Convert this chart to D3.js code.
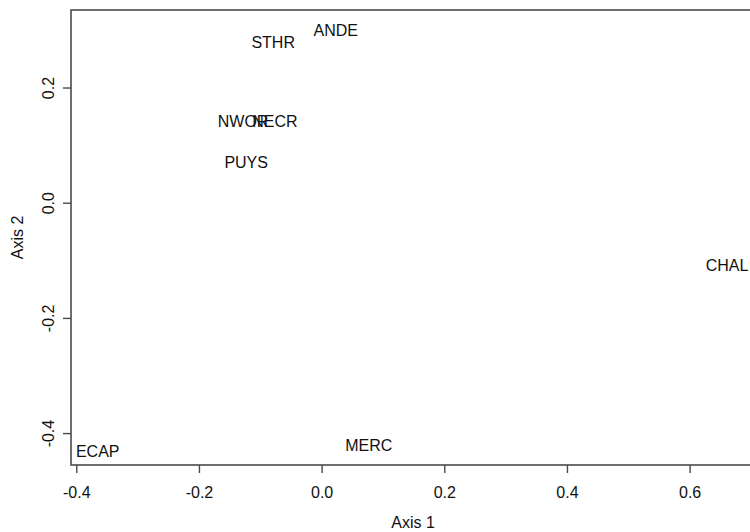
<!DOCTYPE html>
<meta charset="utf-8">
<style>
  body { margin: 0; background: #fff; }
  text { font-family: "Liberation Sans", Arial, sans-serif; fill: #111; }
</style>

<!-- Load d3.js -->
<script src="https://d3js.org/d3.v7.min.js"></script>

<!-- Create a div where the graph will take place -->
<div id="my_dataviz"></div>
<script>

// site labels and their ordination scores
var sites = ["STHR", "ANDE", "NWOR", "NECR", "PUYS", "ECAP", "MERC", "CHAL"];
var axis1 = [-0.079, 0.023, -0.128, -0.076, -0.123, -0.365, 0.077, 0.661];
var axis2 = [0.278, 0.299, 0.142, 0.142, 0.071, -0.432, -0.421, -0.109];

// tick labels
var xTicks = [-0.4, -0.2, 0.0, 0.2, 0.4, 0.6];
var yTicks = [-0.4, -0.2, 0.0, 0.2];

// set the dimensions of the page and the plot box
// (plot region runs a little past the right edge of the page)
var W = 750, H = 532;
var plotL = 71, plotT = 10, plotR = 755, plotB = 465;

var svg = d3.select("#my_dataviz")
  .append("svg")
    .attr("width", W)
    .attr("height", H);

var x = d3.scaleLinear()
  .domain([-0.4086, 0.7066])
  .range([plotL, plotR]);
var y = d3.scaleLinear()
  .domain([-0.4554, 0.3346])
  .range([plotB, plotT]);

// R style labels: plain hyphen for minus
var fmt = function(d) { return d3.format(".1f")(d).replace("\u2212", "-"); };

// box round the plot
svg.append("rect")
  .attr("x", plotL)
  .attr("y", plotT)
  .attr("width", plotR - plotL)
  .attr("height", plotB - plotT)
  .attr("fill", "none")
  .attr("stroke", "#4a4a4a")
  .attr("stroke-width", 1.6);

// X axis
var gx = svg.append("g")
  .attr("transform", "translate(0," + plotB + ")")
  .call(d3.axisBottom(x)
    .tickValues(xTicks)
    .tickFormat(fmt)
    .tickSize(8)
    .tickSizeOuter(0));
gx.select(".domain").remove();
gx.selectAll("line").attr("stroke", "#4a4a4a").attr("stroke-width", 1.4);
gx.selectAll("text")
  .attr("y", 27.7)
  .attr("dy", "0.36em")
  .style("font-size", "16px")
  .style("font-family", "Liberation Sans, Arial, sans-serif")
  .attr("fill", "#111");

// Y axis, labels turned like R does
var gy = svg.append("g")
  .attr("transform", "translate(" + plotL + ",0)")
  .call(d3.axisLeft(y)
    .tickValues(yTicks)
    .tickFormat(fmt)
    .tickSize(8)
    .tickSizeOuter(0));
gy.select(".domain").remove();
gy.selectAll("line").attr("stroke", "#4a4a4a").attr("stroke-width", 1.4);
gy.selectAll("text")
  .attr("x", 0)
  .attr("y", -23)
  .attr("dy", "0.36em")
  .attr("transform", "rotate(-90)")
  .style("text-anchor", "middle")
  .style("font-size", "16px")
  .style("font-family", "Liberation Sans, Arial, sans-serif")
  .attr("fill", "#111");

// axis titles
svg.append("text")
  .attr("x", (plotL + plotR) / 2)
  .attr("y", 522)
  .attr("dy", "0.36em")
  .attr("text-anchor", "middle")
  .style("font-size", "16px")
  .text("Axis 1");

svg.append("text")
  .attr("transform", "translate(17," + ((plotT + plotB) / 2) + ") rotate(-90)")
  .attr("dy", "0.36em")
  .attr("text-anchor", "middle")
  .style("font-size", "16px")
  .text("Axis 2");

// site labels drawn at their scores
svg.selectAll("text.site")
  .data(sites)
  .enter()
  .append("text")
    .attr("class", "site")
    .attr("x", function(d, i) { return x(axis1[i]); })
    .attr("y", function(d, i) { return y(axis2[i]); })
    .attr("dy", "0.36em")
    .attr("text-anchor", "middle")
    .style("font-size", "16px")
    .text(function(d) { return d; });

</script>
